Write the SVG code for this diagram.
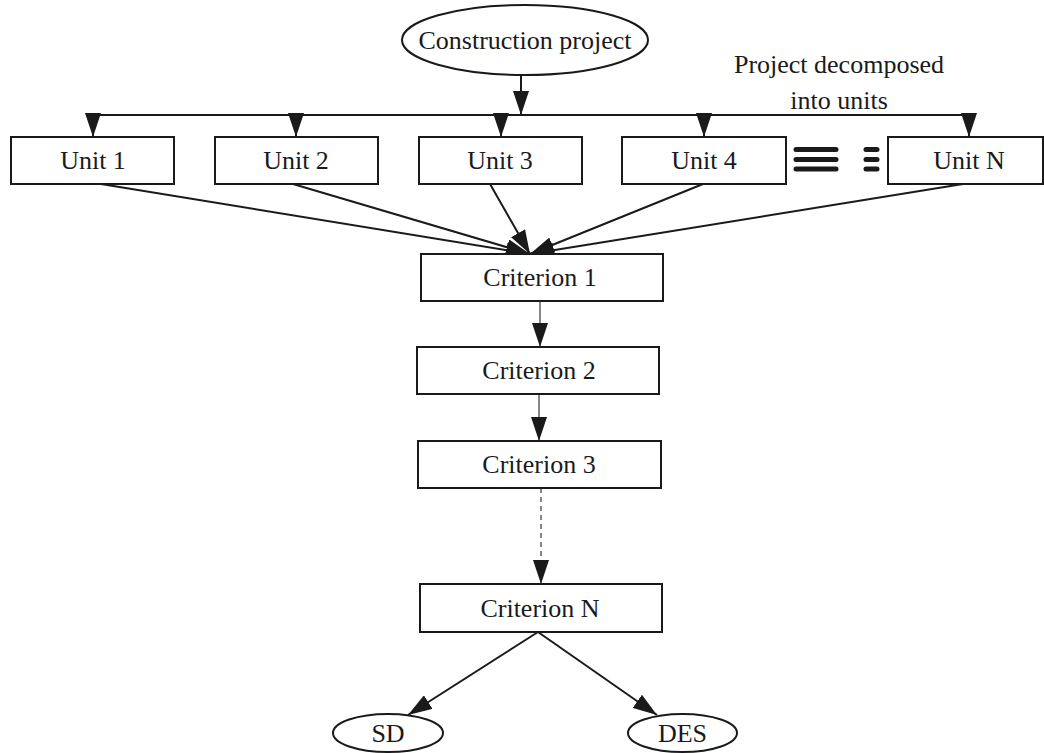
<svg xmlns="http://www.w3.org/2000/svg" width="1044" height="753" viewBox="0 0 1044 753">
  <style>
    .box { fill: #ffffff; stroke: #1a1a1a; stroke-width: 2; }
    .lbl { font-family: "Liberation Serif", "Times New Roman", serif; font-size: 26px; fill: #1a1a1a; text-anchor: middle; }
    .edge { fill: none; stroke: #1a1a1a; stroke-width: 2; }
    .thin { fill: none; stroke: #555555; stroke-width: 1.4; }
    .dash { fill: none; stroke: #555555; stroke-width: 1.4; stroke-dasharray: 5 4; }
    .bar { stroke: #1a1a1a; stroke-width: 5; stroke-linecap: round; }
  </style>
  <defs>
    <marker id="head" markerUnits="userSpaceOnUse" markerWidth="24" markerHeight="16" refX="24" refY="8" orient="auto">
      <path d="M0,0 L24,8 L0,16 Z" fill="#1a1a1a"/>
    </marker>
  </defs>
  <rect width="1044" height="753" fill="#ffffff"/>

  <!-- connectors -->
  <g id="connectors">
    <path class="edge" d="M521,75 L521,115" marker-end="url(#head)"/>
    <path class="edge" d="M93,115 L969,115"/>
    <path class="edge" d="M93,115 L93,137" marker-end="url(#head)"/>
    <path class="edge" d="M296,115 L296,137" marker-end="url(#head)"/>
    <path class="edge" d="M501,115 L501,137" marker-end="url(#head)"/>
    <path class="edge" d="M704,115 L704,137" marker-end="url(#head)"/>
    <path class="edge" d="M969,115 L969,137" marker-end="url(#head)"/>

    <path class="edge" d="M101,184 L530,254" marker-end="url(#head)"/>
    <path class="edge" d="M293,184 L530,254" marker-end="url(#head)"/>
    <path class="edge" d="M490,184 L530,254" marker-end="url(#head)"/>
    <path class="edge" d="M703,184 L530,254" marker-end="url(#head)"/>
    <path class="edge" d="M963,184 L530,254" marker-end="url(#head)"/>

    <path class="thin" d="M540,301 L540,347" marker-end="url(#head)"/>
    <path class="thin" d="M539,394 L539,441" marker-end="url(#head)"/>
    <path class="dash" d="M541,488 L541,584" marker-end="url(#head)"/>

    <path class="edge" d="M538,632 L408,715" marker-end="url(#head)"/>
    <path class="edge" d="M538,632 L657,715" marker-end="url(#head)"/>
  </g>

  <!-- continuation marks between Unit 4 and Unit N -->
  <g id="ellipsis">
    <line class="bar" x1="796" y1="149.5" x2="836" y2="149.5"/>
    <line class="bar" x1="796" y1="159.5" x2="836" y2="159.5"/>
    <line class="bar" x1="796" y1="169" x2="836" y2="169"/>
    <line class="bar" x1="866" y1="149.5" x2="877" y2="149.5"/>
    <line class="bar" x1="866" y1="159.5" x2="877" y2="159.5"/>
    <line class="bar" x1="866" y1="169" x2="877" y2="169"/>
  </g>

  <g id="project">
    <ellipse class="box" cx="525" cy="40" rx="123" ry="35"/>
    <text class="lbl" x="525" y="49">Construction project</text>
  </g>

  <g id="decomposition-note">
    <text class="lbl" x="839" y="73">Project decomposed</text>
    <text class="lbl" x="839" y="109">into units</text>
  </g>

  <g id="unit1">
    <rect class="box" x="11" y="137" width="163" height="47"/>
    <text class="lbl" x="93" y="169">Unit 1</text>
  </g>
  <g id="unit2">
    <rect class="box" x="215" y="137" width="163" height="47"/>
    <text class="lbl" x="296" y="169">Unit 2</text>
  </g>
  <g id="unit3">
    <rect class="box" x="419" y="137" width="163" height="47"/>
    <text class="lbl" x="500" y="169">Unit 3</text>
  </g>
  <g id="unit4">
    <rect class="box" x="622" y="137" width="164" height="47"/>
    <text class="lbl" x="704" y="169">Unit 4</text>
  </g>
  <g id="unitN">
    <rect class="box" x="888" y="137" width="155" height="47"/>
    <text class="lbl" x="969" y="169">Unit N</text>
  </g>

  <g id="criterion1">
    <rect class="box" x="421" y="254" width="242" height="47"/>
    <text class="lbl" x="540" y="286">Criterion 1</text>
  </g>
  <g id="criterion2">
    <rect class="box" x="417" y="347" width="242" height="47"/>
    <text class="lbl" x="539" y="379">Criterion 2</text>
  </g>
  <g id="criterion3">
    <rect class="box" x="418" y="441" width="243" height="47"/>
    <text class="lbl" x="539" y="473">Criterion 3</text>
  </g>
  <g id="criterionN">
    <rect class="box" x="420" y="584" width="242" height="48"/>
    <text class="lbl" x="540" y="617">Criterion N</text>
  </g>

  <g id="sd">
    <ellipse class="box" cx="388" cy="733" rx="55" ry="19"/>
    <text class="lbl" x="388" y="742">SD</text>
  </g>
  <g id="des">
    <ellipse class="box" cx="682.5" cy="733" rx="54.5" ry="19"/>
    <text class="lbl" x="682.5" y="742">DES</text>
  </g>
</svg>
